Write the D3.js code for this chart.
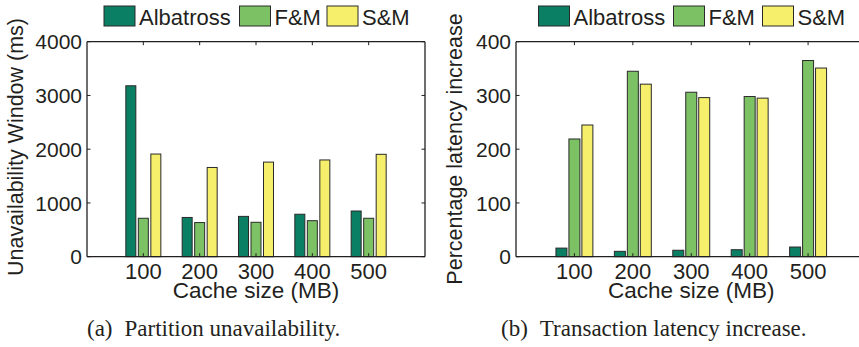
<!DOCTYPE html>
<html>
<head>
<meta charset="utf-8">
<script src="https://cdn.jsdelivr.net/npm/d3@7"></script>
<style>
  html, body { margin: 0; padding: 0; background: #fff; overflow: hidden; }
  svg { display: block; }
</style>
</head>
<body>
<svg id="fig" width="859" height="347"></svg>
<script>
// Categories and series
const cacheSizes = ["100", "200", "300", "400", "500"];
const seriesNames = ["Albatross", "F&M", "S&M"];
const seriesColors = ["#0b7f63", "#7cc265", "#f6ef6b"];

// (a) Partition unavailability window, ms
const unavailAlbatross = [3180, 730, 750, 790, 850];
const unavailFM = [715, 635, 640, 670, 715];
const unavailSM = [1910, 1660, 1760, 1800, 1905];
const unavailTicks = [0, 1000, 2000, 3000, 4000];

// (b) Percentage transaction latency increase
const latencyAlbatross = [16, 10, 12, 13, 18];
const latencyFM = [219, 345, 306, 298, 365];
const latencySM = [245, 321, 296, 295, 351];
const latencyTicks = [0, 100, 200, 300, 400];

const svg = d3.select("#fig");
const sans = "'Liberation Sans', Arial, Helvetica, sans-serif";
const serif = "'Liberation Serif', 'Times New Roman', serif";
const ink = "#231f20";

function drawPanel(p) {
  const g = svg.append("g");
  const x = d3.scaleLinear().domain([0, cacheSizes.length + 1]).range([p.left, p.right]);
  const y = d3.scaleLinear().domain([0, p.ticks[p.ticks.length - 1]]).range([p.bottom, p.top]);
  const offset = 0.222, barW = p.barW;
  const series = p.series;

  // bars
  series.forEach((vals, si) => {
    g.append("g").selectAll("rect")
      .data(vals)
      .join("rect")
      .attr("x", (d, i) => x(i + 1 + (si - 1) * offset) - barW / 2)
      .attr("width", barW)
      .attr("y", d => y(d))
      .attr("height", d => y(0) - y(d))
      .attr("fill", seriesColors[si])
      .attr("stroke", "#2a2a2a")
      .attr("stroke-width", 1);
  });

  // frame
  const frame = g.append("g").attr("stroke", ink).attr("stroke-width", 1.3).attr("fill", "none");
  frame.append("line").attr("x1", p.left).attr("x2", p.right).attr("y1", p.bottom).attr("y2", p.bottom);
  frame.append("line").attr("x1", p.left).attr("x2", p.right).attr("y1", p.top).attr("y2", p.top);
  frame.append("line").attr("x1", p.left).attr("x2", p.left).attr("y1", p.top).attr("y2", p.bottom);
  frame.append("line").attr("x1", p.right).attr("x2", p.right).attr("y1", p.top).attr("y2", p.bottom);

  // inward ticks on all four sides
  const tl = 3.5;
  const ticks = g.append("g").attr("stroke", ink).attr("stroke-width", 1);
  cacheSizes.forEach((c, i) => {
    const xx = x(i + 1);
    ticks.append("line").attr("x1", xx).attr("x2", xx).attr("y1", p.top).attr("y2", p.top + tl);
    ticks.append("line").attr("x1", xx).attr("x2", xx).attr("y1", p.bottom).attr("y2", p.bottom - tl);
  });
  p.ticks.forEach(t => {
    const yy = y(t);
    ticks.append("line").attr("x1", p.left).attr("x2", p.left + tl).attr("y1", yy).attr("y2", yy);
    ticks.append("line").attr("x1", p.right).attr("x2", p.right - tl).attr("y1", yy).attr("y2", yy);
  });

  // y tick labels
  g.append("g").selectAll("text")
    .data(p.ticks)
    .join("text")
    .attr("x", p.left - 5)
    .attr("y", d => y(d))
    .attr("dy", "0.36em")
    .attr("text-anchor", "end")
    .attr("font-family", sans)
    .attr("font-size", 21)
    .attr("fill", ink)
    .text(d => d);

  // x tick labels
  g.append("g").selectAll("text")
    .data(cacheSizes)
    .join("text")
    .attr("x", (d, i) => x(i + 1))
    .attr("y", 278.5)
    .attr("text-anchor", "middle")
    .attr("font-family", sans)
    .attr("font-size", 22)
    .attr("fill", ink)
    .text(d => d);

  // axis titles
  g.append("text")
    .attr("x", (p.left + p.right) / 2)
    .attr("y", 297.5)
    .attr("text-anchor", "middle")
    .attr("font-family", sans)
    .attr("font-size", 22.5)
    .attr("fill", ink)
    .text("Cache size (MB)");

  g.append("text")
    .attr("transform", `translate(${p.yTitleX},${p.yTitleY}) rotate(-90)`)
    .attr("text-anchor", "middle")
    .attr("font-family", sans)
    .attr("font-size", 21.5)
    .attr("fill", ink)
    .text(p.yTitle);

  // legend
  const lg = g.append("g");
  seriesNames.forEach((name, si) => {
    lg.append("rect")
      .attr("x", p.legendX[si])
      .attr("y", 6)
      .attr("width", 31)
      .attr("height", 20)
      .attr("fill", seriesColors[si])
      .attr("stroke", "#2a2a2a")
      .attr("stroke-width", 1);
    lg.append("text")
      .attr("x", p.legendX[si] + 35)
      .attr("y", 25)
      .attr("font-family", sans)
      .attr("font-size", 22)
      .attr("fill", ink)
      .text(name);
  });

  // caption
  const cap = g.append("text")
    .attr("x", p.captionX)
    .attr("y", 335.5)
    .attr("font-family", serif)
    .attr("font-size", 23)
    .attr("fill", ink);
  cap.append("tspan").text(p.captionTag);
  cap.append("tspan").attr("dx", 12).text(p.caption);
}

drawPanel({
  left: 87, right: 425, top: 41.7, bottom: 256.7,
  barW: 10,
  series: [unavailAlbatross, unavailFM, unavailSM],
  ticks: unavailTicks,
  yTitle: "Unavailability Window (ms)",
  yTitleX: 23, yTitleY: 147,
  legendX: [104, 239.5, 327],
  captionX: 87, captionTag: "(a)", caption: "Partition unavailability."
});

drawPanel({
  left: 516, right: 866.5, top: 41.7, bottom: 256.7,
  barW: 11,
  series: [latencyAlbatross, latencyFM, latencySM],
  ticks: latencyTicks,
  yTitle: "Percentage latency increase",
  yTitleX: 462, yTitleY: 149,
  legendX: [538.5, 673.5, 762.5],
  captionX: 501, captionTag: "(b)", caption: "Transaction latency increase."
});
</script>
</body>
</html>
